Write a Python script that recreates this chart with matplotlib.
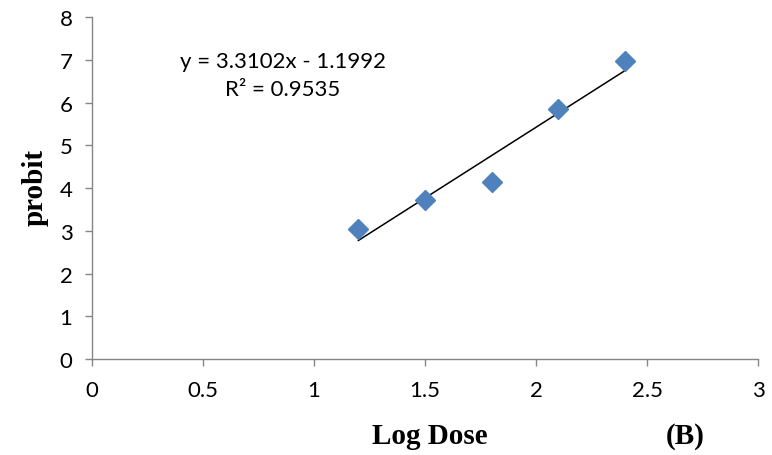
import numpy as np
import matplotlib.pyplot as plt

# datos
log_dose = [1.2, 1.5, 1.8, 2.1, 2.4]
probit = [3.05, 3.72, 4.15, 5.85, 6.97]

# linea de tendencia (ecuacion mostrada en el grafico)
slope = 3.3102
intercept = -1.1992
r2 = 0.9535

fig = plt.figure(figsize=(7.72, 4.56), dpi=100)
ax = fig.add_axes([0.119, 0.2105, 0.863, 0.75])

x_fit = np.array([min(log_dose), max(log_dose)])
ax.plot(x_fit, slope * x_fit + intercept, color="black", lw=1.1, zorder=2)
ax.plot(log_dose, probit, "D", color="#4F81BD", markersize=10, zorder=3)

ax.set_xlim(0, 3)
ax.set_ylim(0, 8)
ax.set_xticks([0, 0.5, 1, 1.5, 2, 2.5, 3])
ax.set_xticklabels(["0", "0.5", "1", "1.5", "2", "2.5", "3"])
ax.set_yticks(range(0, 9))

for s in ["top", "right"]:
    ax.spines[s].set_visible(False)
for s in ["left", "bottom"]:
    ax.spines[s].set_color("#868686")
    ax.spines[s].set_linewidth(1.0)

ax.tick_params(direction="out", length=5, width=1.0, color="#868686",
               labelsize=16)
ax.tick_params(axis="x", pad=10)
ax.tick_params(axis="y", pad=9)
for lab in ax.get_xticklabels() + ax.get_yticklabels():
    lab.set_fontfamily("Lato")

ax.text(0.287, 0.871, "y = 3.3102x - 1.1992", transform=ax.transAxes,
        ha="center", va="center", fontsize=16, fontfamily="Lato")
ax.text(0.287, 0.789, "R² = %.4f" % r2, transform=ax.transAxes,
        ha="center", va="center", fontsize=16, fontfamily="Lato")

fig.text(0.557, 0.042, "Log Dose", ha="center", va="center", fontsize=21,
         fontweight="bold", fontfamily="Liberation Serif")
fig.text(0.887, 0.042, "(B)", ha="center", va="center", fontsize=21,
         fontweight="bold", fontfamily="Liberation Serif")
fig.text(0.045, 0.588, "probit", ha="center", va="center", rotation=90,
         fontsize=21, fontweight="bold", fontfamily="Liberation Serif")

plt.savefig("out.png", dpi=100)
